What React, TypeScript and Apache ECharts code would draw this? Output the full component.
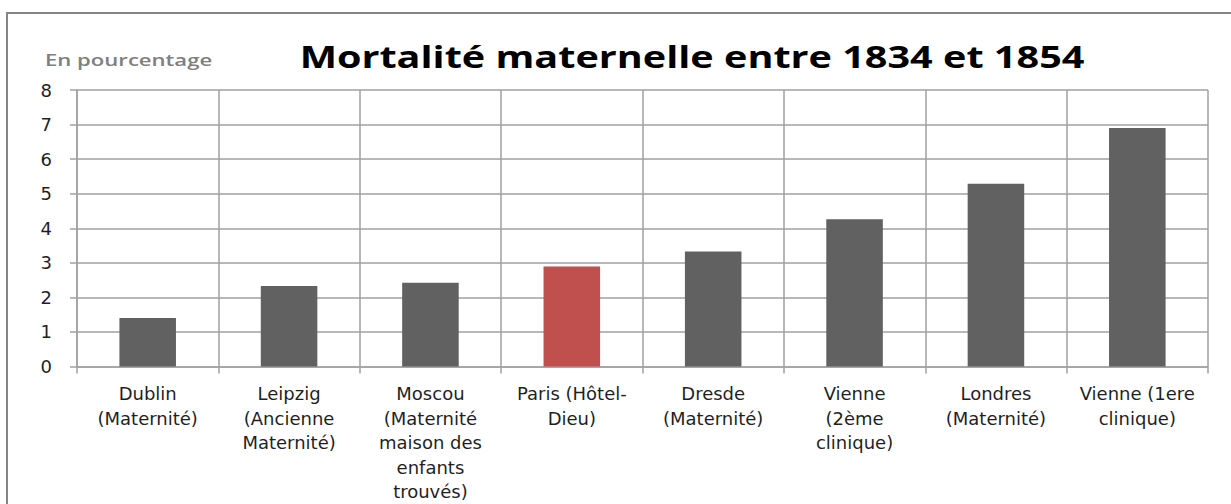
import React, { useEffect, useRef } from "react";
import * as echarts from "echarts";

const categories = [
  "Dublin\n(Maternité)",
  "Leipzig\n(Ancienne\nMaternité)",
  "Moscou\n(Maternité\nmaison des\nenfants\ntrouvés)",
  "Paris (Hôtel-\nDieu)",
  "Dresde\n(Maternité)",
  "Vienne\n(2ème\nclinique)",
  "Londres\n(Maternité)",
  "Vienne (1ere\nclinique)",
];
const values = [1.4, 2.33, 2.42, 2.89, 3.33, 4.26, 5.29, 6.9];
const highlightIndex = 3;
const yTicks = [0, 1, 2, 3, 4, 5, 6, 7, 8];
const titleText = "Mortalité maternelle entre 1834 et 1854";
const unitText = "En pourcentage";

const FONT = "'Open Sans', 'Noto Sans', sans-serif";
const AXIS_FONT = "'DejaVu Sans', 'Open Sans', sans-serif";

export default function App() {
  const ref = useRef<HTMLDivElement>(null);
  useEffect(() => {
    document.body.style.margin = "0";
    const chart = echarts.init(ref.current!, null, { renderer: "svg" });
    chart.setOption({
      animation: false,
      backgroundColor: "#ffffff",
      grid: { left: 77, right: 23, top: 90, bottom: 134, containLabel: false },
      graphic: [
        {
          type: "rect",
          shape: { x: 7, y: 13, width: 1250, height: 520 },
          style: { fill: "none", stroke: "#868686", lineWidth: 2 },
          silent: true,
        },
        {
          type: "text",
          x: 692,
          y: 56,
          scaleX: 1.32,
          style: {
            text: titleText,
            x: 0,
            y: 0,
            align: "center",
            verticalAlign: "middle",
            font: `bold 30px ${FONT}`,
            fill: "#000000",
          },
        },
        {
          type: "text",
          x: 45,
          y: 60,
          scaleX: 1.3,
          style: {
            text: unitText,
            x: 0,
            y: 0,
            align: "left",
            verticalAlign: "middle",
            font: `600 17px ${FONT}`,
            fill: "#7f7f7f",
          },
        },
      ],
      xAxis: {
        type: "category",
        data: categories,
        boundaryGap: true,
        axisLine: { show: true, lineStyle: { color: "#a0a0a0", width: 1.5 } },
        axisTick: { show: true, length: 7, lineStyle: { color: "#a0a0a0", width: 1.5 } },
        splitLine: { show: true, lineStyle: { color: "#a0a0a0", width: 1.5 } },
        axisLabel: {
          interval: 0,
          margin: 15,
          fontFamily: AXIS_FONT,
          fontSize: 18,
          lineHeight: 24.5,
          color: "#1f1f1f",
          align: "center",
          verticalAlign: "top",
        },
      },
      yAxis: {
        type: "value",
        min: 0,
        max: 8,
        interval: 1,
        axisLine: { show: true, lineStyle: { color: "#a0a0a0", width: 1.5 } },
        axisTick: { show: true, length: 7, lineStyle: { color: "#a0a0a0", width: 1.5 } },
        splitLine: { show: true, lineStyle: { color: "#a0a0a0", width: 1.5 } },
        axisLabel: {
          margin: 25,
          fontFamily: AXIS_FONT,
          fontSize: 18,
          color: "#1f1f1f",
          formatter: (v: number) => (yTicks.includes(v) ? String(v) : ""),
        },
      },
      series: [
        {
          type: "bar",
          barWidth: "40%",
          data: values.map((v, i) => ({
            value: v,
            itemStyle: { color: i === highlightIndex ? "#c0504d" : "#616161" },
          })),
        },
      ],
    });
    return () => chart.dispose();
  }, []);
  return <div ref={ref} style={{ width: 1231, height: 504 }} />;
}
